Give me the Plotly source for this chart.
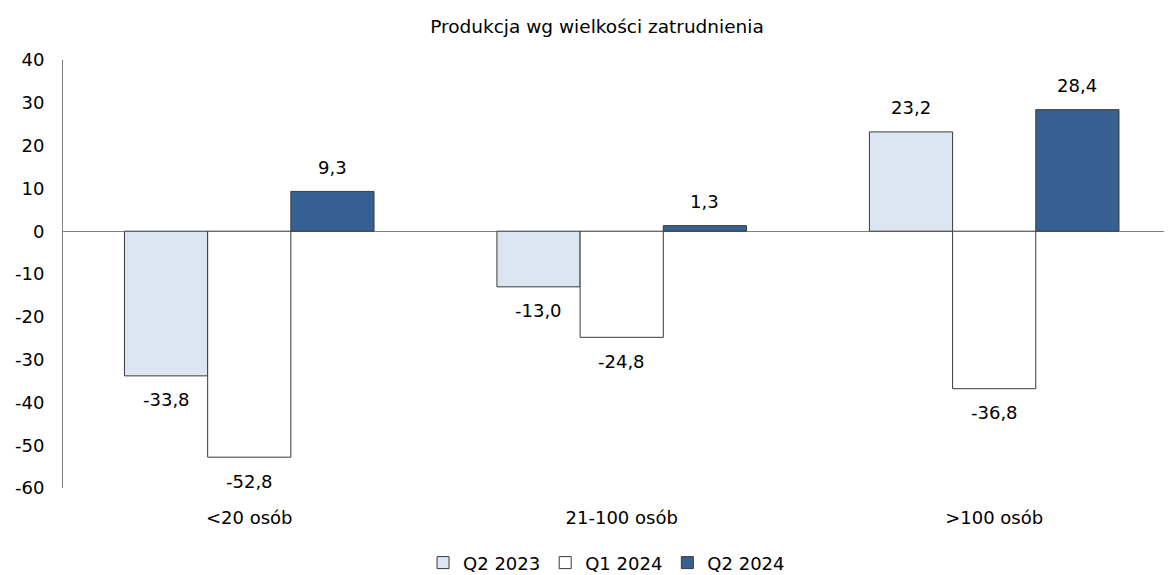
import plotly.graph_objects as go

categories = ["<20 osób", "21-100 osób", ">100 osób"]
series_names = ["Q2 2023", "Q1 2024", "Q2 2024"]
q2_2023 = [-33.8, -13.0, 23.2]
q1_2024 = [-52.8, -24.8, -36.8]
q2_2024 = [9.3, 1.3, 28.4]
y_ticks = [40, 30, 20, 10, 0, -10, -20, -30, -40, -50, -60]

colors = ["#dce6f2", "#ffffff", "#366092"]
FONT = "DejaVu Sans"
FS = 18
BARGAP = 0.33
W, H = 1164, 567  # page body has an 8px margin

series = [q2_2023, q1_2024, q2_2024]
fig = go.Figure()
for name, vals, col in zip(series_names, series, colors):
    fig.add_trace(go.Bar(
        x=categories, y=vals, name=name,
        marker=dict(color=col, line=dict(color="#3a3a3a", width=1)),
    ))

# data labels, placed at each bar end through the axes
bar_w = (1 - BARGAP) / len(series)
for i, vals in enumerate(series):
    off = (i - (len(series) - 1) / 2) * bar_w
    for j, v in enumerate(vals):
        fig.add_annotation(
            x=j + off, y=v, xref="x", yref="y",
            text=f"{v:.1f}".replace(".", ","), showarrow=False,
            yanchor="middle", yshift=24 if v >= 0 else -24,
            font=dict(family=FONT, size=FS, color="#000000"),
        )

fig.update_layout(
    width=W, height=H,
    barmode="group", bargap=BARGAP, bargroupgap=0,
    paper_bgcolor="white", plot_bgcolor="white",
    margin=dict(l=55, r=2, t=52, b=87, autoexpand=False),
    title=dict(text="Produkcja wg wielkości zatrudnienia", x=589 / W, xanchor="center",
               y=1 - 19 / H, yanchor="middle",
               font=dict(family=FONT, size=18.5, color="#000000")),
    font=dict(family=FONT, size=FS, color="#000000"),
    showlegend=True,
    legend=dict(orientation="h", x=0.491, xanchor="center", y=-0.175, yanchor="middle",
                font=dict(family=FONT, size=FS), itemwidth=30, traceorder="normal"),
)
fig.update_xaxes(range=[-0.5, 2.472], showline=False, showgrid=False, ticks="",
                 ticklabelstandoff=17, tickfont=dict(family=FONT, size=FS),
                 zeroline=False, automargin=False)
fig.update_yaxes(range=[-60, 40], tickvals=y_ticks, ticktext=[str(t) for t in y_ticks],
                 showgrid=False, showline=True,
                 linecolor="#808080", linewidth=1, ticks="", zeroline=True,
                 zerolinecolor="#808080", zerolinewidth=1,
                 tickfont=dict(family=FONT, size=FS), ticklabelstandoff=14,
                 automargin=False)

fig.write_html("out.html")
